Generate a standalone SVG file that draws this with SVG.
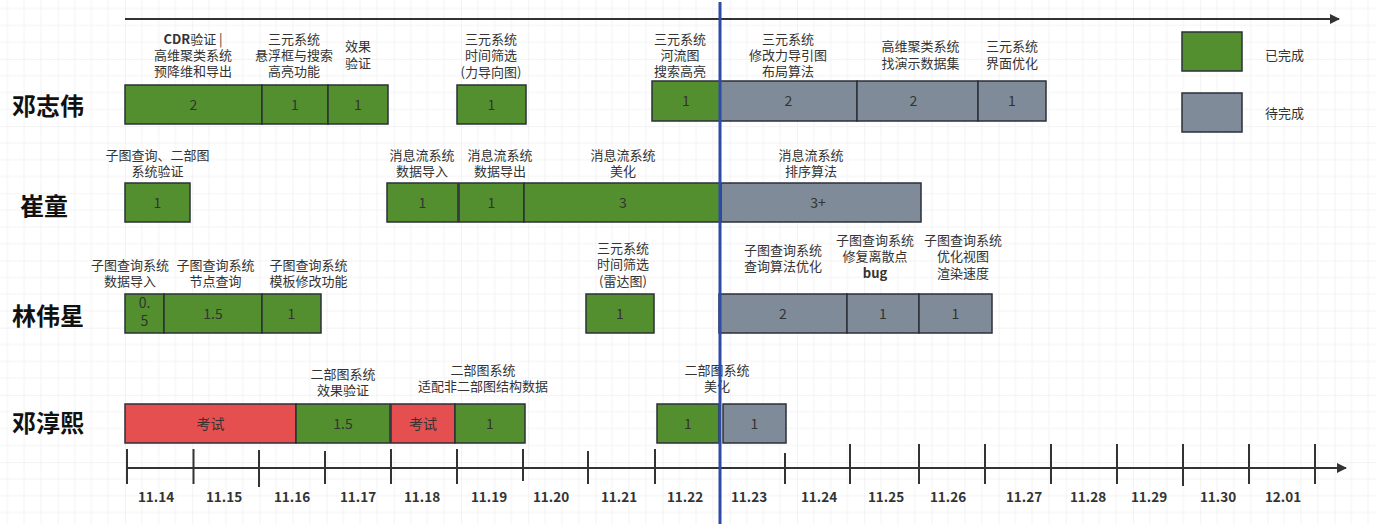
<svg xmlns="http://www.w3.org/2000/svg" width="1376" height="524" viewBox="0 0 1376 524">
<style>
.g{fill:#548f2f;stroke:#2b3138;stroke-width:1.5}
.s{fill:#7f8b98;stroke:#2b3138;stroke-width:1.5}
.r{fill:#e64f4f;stroke:#2b3138;stroke-width:1.5}
.bt{font-family:"Noto Sans CJK SC","Noto Sans",sans-serif;font-size:14px;fill:#333;text-anchor:middle}
.lb{font-family:"Noto Sans CJK SC","Noto Sans",sans-serif;font-size:13px;fill:#333;text-anchor:middle}
.nm{font-family:"Noto Sans CJK SC","Noto Sans",sans-serif;font-size:24px;font-weight:bold;fill:#111}
.lg{font-family:"Noto Sans CJK SC","Noto Sans",sans-serif;font-size:13px;fill:#333}
.dt{font-family:"Noto Sans CJK SC","Noto Sans",sans-serif;font-size:13.5px;font-weight:bold;fill:#333;text-anchor:middle}
.ax{stroke:#333;stroke-width:2;fill:none}
.tk{stroke:#333;stroke-width:2}
</style>
<defs>
<pattern id="grid" patternUnits="userSpaceOnUse" x="57.8" y="58.9" width="67.2" height="67.2">
<path d="M16.8 0V67.2M33.6 0V67.2M50.4 0V67.2M0 16.8H67.2M0 33.6H67.2M0 50.4H67.2" stroke="#f3f3f3" stroke-width="1"/>
<path d="M0 0V67.2M0 0H67.2" stroke="#e8e8e8" stroke-width="1"/>
</pattern>
<marker id="arr" markerWidth="10" markerHeight="10" refX="9" refY="5" orient="auto" markerUnits="userSpaceOnUse" viewBox="0 0 10 10">
<path d="M0 0L10 5L0 10Z" fill="#333"/>
</marker>
</defs>
<rect width="1376" height="524" fill="#fff"/>
<rect width="1376" height="524" fill="url(#grid)"/>

<g id="names">
<text class="nm" x="12" y="115">邓志伟</text>
<text class="nm" x="20" y="214.5">崔童</text>
<text class="nm" x="12" y="325">林伟星</text>
<text class="nm" x="12" y="431.5">邓淳熙</text>
</g>

<g id="legend">
<rect class="g" x="1182" y="32" width="60" height="39"/>
<text class="lg" x="1265" y="59.5">已完成</text>
<rect class="s" x="1182" y="93" width="60" height="39"/>
<text class="lg" x="1265" y="117.5">待完成</text>
</g>

<!-- Row 1 -->
<g id="r1a"><rect class="g" x="125" y="85" width="137" height="39"/><text class="bt" x="193.5" y="110">2</text>
<text class="lb" x="193" y="43.5"><tspan font-weight="bold">CDR</tspan>验证 |<tspan x="193" dy="16.5">高维聚类系统</tspan><tspan x="193" dy="16">预降维和导出</tspan></text></g>
<g id="r1b"><rect class="g" x="262" y="85" width="66" height="39"/><text class="bt" x="295" y="110">1</text>
<text class="lb" x="294" y="43.5">三元系统<tspan x="294" dy="16.5">悬浮框与搜索</tspan><tspan x="294" dy="16">高亮功能</tspan></text></g>
<g id="r1c"><rect class="g" x="328" y="85" width="60" height="39"/><text class="bt" x="358" y="110">1</text>
<text class="lb" x="358" y="51">效果<tspan x="358" dy="16.5">验证</tspan></text></g>
<g id="r1d"><rect class="g" x="457" y="85" width="69" height="39"/><text class="bt" x="491.5" y="110">1</text>
<text class="lb" x="491" y="43.5">三元系统<tspan x="491" dy="16.5">时间筛选</tspan><tspan x="491" dy="17">(力导向图)</tspan></text></g>
<g id="r1e"><rect class="g" x="652" y="81" width="68" height="40"/><text class="bt" x="686" y="106">1</text>
<text class="lb" x="680" y="43.5">三元系统<tspan x="680" dy="16.5">河流图</tspan><tspan x="680" dy="16">搜索高亮</tspan></text></g>
<g id="r1f"><rect class="s" x="720" y="81" width="137" height="40"/><text class="bt" x="788.5" y="106">2</text>
<text class="lb" x="788" y="43.5">三元系统<tspan x="788" dy="16.5">修改力导引图</tspan><tspan x="788" dy="16">布局算法</tspan></text></g>
<g id="r1g"><rect class="s" x="857" y="81" width="121" height="40"/><text class="bt" x="913.5" y="106">2</text>
<text class="lb" x="920.5" y="51">高维聚类系统<tspan x="920.5" dy="16.5">找演示数据集</tspan></text></g>
<g id="r1h"><rect class="s" x="978" y="81" width="68" height="40"/><text class="bt" x="1012" y="106">1</text>
<text class="lb" x="1012" y="51">三元系统<tspan x="1012" dy="16.5">界面优化</tspan></text></g>

<!-- Row 2 -->
<g id="r2a"><rect class="g" x="125" y="183" width="65" height="39"/><text class="bt" x="157.5" y="208">1</text>
<text class="lb" x="157.5" y="159.5">子图查询、二部图<tspan x="157.5" dy="16">系统验证</tspan></text></g>
<g id="r2b"><rect class="g" x="387" y="183" width="71" height="39"/><text class="bt" x="422.5" y="208">1</text>
<text class="lb" x="422" y="159.5">消息流系统<tspan x="422" dy="16">数据导入</tspan></text></g>
<g id="r2c"><rect class="g" x="459" y="183" width="65" height="39"/><text class="bt" x="491.5" y="208">1</text>
<text class="lb" x="500" y="159.5">消息流系统<tspan x="500" dy="16">数据导出</tspan></text></g>
<g id="r2d"><rect class="g" x="524" y="183" width="196" height="39"/><text class="bt" x="623" y="208">3</text>
<text class="lb" x="623" y="159.5">消息流系统<tspan x="623" dy="16">美化</tspan></text></g>
<g id="r2e"><rect class="s" x="721" y="183" width="200" height="39"/><text class="bt" x="818" y="208">3+</text>
<text class="lb" x="811" y="159.5">消息流系统<tspan x="811" dy="16">排序算法</tspan></text></g>

<!-- Row 3 -->
<g id="r3a"><rect class="g" x="125" y="294" width="39" height="39"/><text class="bt" x="144.5" y="308">0.<tspan x="144.5" dy="18">5</tspan></text>
<text class="lb" x="130" y="269.5">子图查询系统<tspan x="130" dy="16">数据导入</tspan></text></g>
<g id="r3b"><rect class="g" x="164" y="294" width="98" height="39"/><text class="bt" x="213" y="319">1.5</text>
<text class="lb" x="215.5" y="269.5">子图查询系统<tspan x="215.5" dy="16">节点查询</tspan></text></g>
<g id="r3c"><rect class="g" x="262" y="294" width="59" height="39"/><text class="bt" x="291.5" y="319">1</text>
<text class="lb" x="308.5" y="269.5">子图查询系统<tspan x="308.5" dy="16">模板修改功能</tspan></text></g>
<g id="r3d"><rect class="g" x="586" y="294" width="68" height="39"/><text class="bt" x="620" y="319">1</text>
<text class="lb" x="623" y="253">三元系统<tspan x="623" dy="16">时间筛选</tspan><tspan x="623" dy="16.5">(雷达图)</tspan></text></g>
<g id="r3e"><rect class="s" x="719" y="294" width="128" height="39"/><text class="bt" x="783" y="319">2</text>
<text class="lb" x="783" y="254.5">子图查询系统<tspan x="783" dy="16.5">查询算法优化</tspan></text></g>
<g id="r3f"><rect class="s" x="847" y="294" width="72" height="39"/><text class="bt" x="883" y="319">1</text>
<text class="lb" x="875" y="244.5">子图查询系统<tspan x="875" dy="16.5">修复离散点</tspan><tspan x="875" dy="16.5" font-weight="bold">bug</tspan></text></g>
<g id="r3g"><rect class="s" x="919" y="294" width="73" height="39"/><text class="bt" x="955.5" y="319">1</text>
<text class="lb" x="963" y="244.5">子图查询系统<tspan x="963" dy="16.5">优化视图</tspan><tspan x="963" dy="16.5">渲染速度</tspan></text></g>

<!-- Row 4 -->
<g id="r4a"><rect class="r" x="125" y="404" width="171" height="39"/><text class="bt" x="210.5" y="429">考试</text></g>
<g id="r4b"><rect class="g" x="296" y="404" width="94" height="39"/><text class="bt" x="343" y="429">1.5</text>
<text class="lb" x="343" y="378.5">二部图系统<tspan x="343" dy="16.5">效果验证</tspan></text></g>
<g id="r4c"><rect class="r" x="391" y="404" width="64" height="39"/><text class="bt" x="423" y="429">考试</text></g>
<g id="r4d"><rect class="g" x="455" y="404" width="70" height="39"/><text class="bt" x="490" y="429">1</text>
<text class="lb" x="483" y="375">二部图系统<tspan x="483" dy="16">适配非二部图结构数据</tspan></text></g>
<g id="r4e"><rect class="g" x="657" y="404" width="62" height="39"/><text class="bt" x="688" y="429">1</text>
<text class="lb" x="717" y="375">二部图系统<tspan x="717" dy="16">美化</tspan></text></g>
<g id="r4f"><rect class="s" x="723" y="404" width="63" height="39"/><text class="bt" x="754.5" y="429">1</text></g>

<g id="dates">
<text class="dt" x="156" y="502">11.14</text>
<text class="dt" x="224" y="502">11.15</text>
<text class="dt" x="292" y="502">11.16</text>
<text class="dt" x="358" y="502">11.17</text>
<text class="dt" x="422" y="502">11.18</text>
<text class="dt" x="489" y="502">11.19</text>
<text class="dt" x="551" y="502">11.20</text>
<text class="dt" x="619" y="502">11.21</text>
<text class="dt" x="685" y="502">11.22</text>
<text class="dt" x="749" y="502">11.23</text>
<text class="dt" x="819" y="502">11.24</text>
<text class="dt" x="886" y="502">11.25</text>
<text class="dt" x="948" y="502">11.26</text>
<text class="dt" x="1024" y="502">11.27</text>
<text class="dt" x="1088" y="502">11.28</text>
<text class="dt" x="1149" y="502">11.29</text>
<text class="dt" x="1218" y="502">11.30</text>
<text class="dt" x="1283" y="502">12.01</text>
</g>

<g id="connectors">
<line class="ax" x1="125" y1="19" x2="1339" y2="19" marker-end="url(#arr)"/>
<line class="ax" x1="127" y1="468" x2="1346" y2="468" marker-end="url(#arr)"/>
<g class="tk">
<line x1="127" y1="449" x2="127" y2="484"/>
<line x1="193.5" y1="449" x2="193.5" y2="484"/>
<line x1="259" y1="450" x2="259" y2="487"/>
<line x1="325" y1="451" x2="325" y2="484"/>
<line x1="391" y1="449" x2="391" y2="484"/>
<line x1="457" y1="449" x2="457" y2="484"/>
<line x1="523" y1="449" x2="523" y2="481"/>
<line x1="588" y1="451" x2="588" y2="484"/>
<line x1="655" y1="449" x2="655" y2="484"/>
<line x1="785" y1="453" x2="785" y2="484"/>
<line x1="850" y1="444" x2="850" y2="484"/>
<line x1="919" y1="444" x2="919" y2="484"/>
<line x1="985" y1="444" x2="985" y2="484"/>
<line x1="1051" y1="444" x2="1051" y2="484"/>
<line x1="1117" y1="444" x2="1117" y2="484"/>
<line x1="1183" y1="444" x2="1183" y2="486"/>
<line x1="1249" y1="444" x2="1249" y2="484"/>
<line x1="1315" y1="444" x2="1315" y2="484"/>
</g>
<line x1="720" y1="2" x2="720" y2="524" stroke="#2f4ba8" stroke-width="3"/>
</g>
</svg>
